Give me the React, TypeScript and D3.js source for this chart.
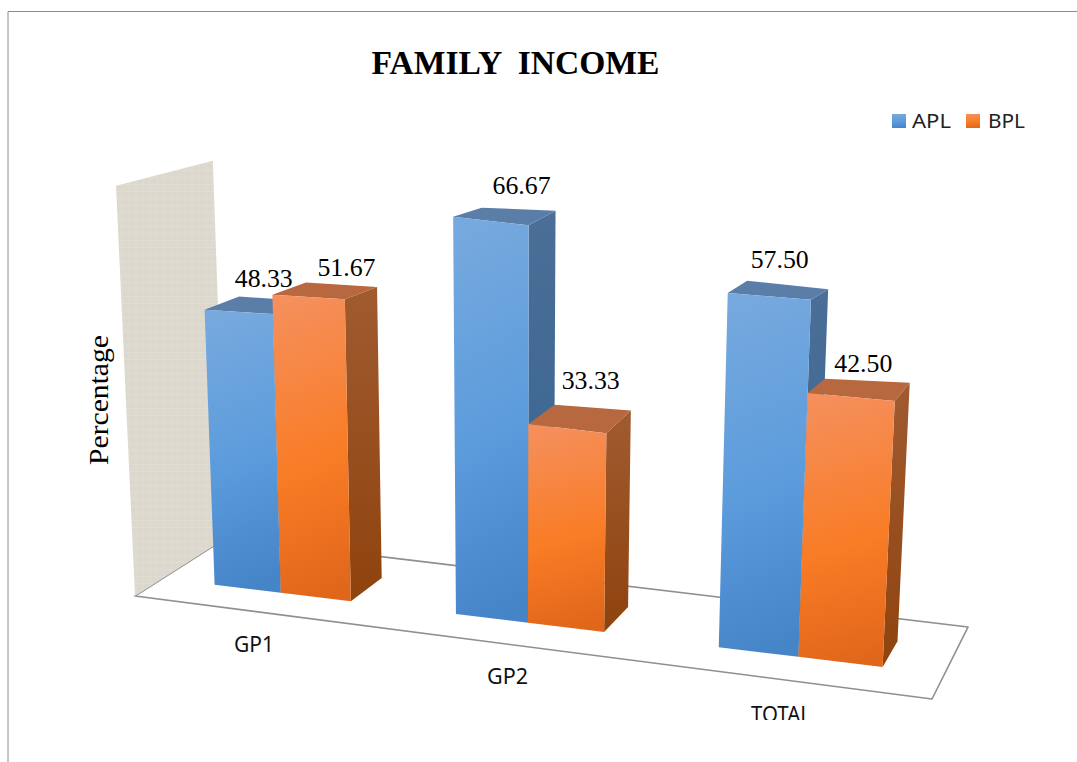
import React from "react";
import * as d3 from "d3";

const categories = ["GP1", "GP2", "TOTAL"];
const seriesNames = ["APL", "BPL"];
const apl = [48.33, 66.67, 57.5];
const bpl = [51.67, 33.33, 42.5];
const axisTop = 70.8;

// layout of the perspective floor
const W = 1077, H = 762;
const hom = { a: 555.8, b: 92.5, c: 135, d: -77.9, e: -10.7, f: 596, g: -0.2588, h: 0.068 };
const vanish = { x: 513, y: 8770 };
const pxPerUnit = d3.scaleLinear().domain([538, 578, 614, 632, 647, 667]).range([5.33, 5.63, 5.96, 5.96, 6.16, 6.26]);
const groupStart = d3.scaleLinear().domain([0, 1, 2]).range([0.086, 0.445, 0.768]);
const groupWidth = d3.scaleLinear().domain([0, 1, 2]).range([0.211, 0.189, 0.172]);
const frontDepth = d3.scaleLinear().domain([0, 1, 2]).range([0.347, 0.343, 0.322]);
const backDepth = d3.scaleLinear().domain([0, 1, 2]).range([0.786, 0.756, 0.69]);

type P = [number, number];
function floorPt(u: number, v: number): P {
  const w = hom.g * u + hom.h * v + 1;
  return [(hom.a * u + hom.b * v + hom.c) / w, (hom.d * u + hom.e * v + hom.f) / w];
}
function project(u: number, v: number, val: number): P {
  const [fx, fy] = floorPt(u, v);
  const py = val * pxPerUnit(fy);
  return [fx + ((fx - vanish.x) / (vanish.y - fy)) * py, fy - py];
}
const poly = (pts: P[]) => (d3.line()(pts) as string) + "Z";

const labelDx = [[-9, 5], [3, -2], [-8, -4]];
const labelDy = [[-12, -9], [-15, -19], [-17, -9]];
const catPos = [
  { x: 254, y: 652, w: 40 },
  { x: 507.5, y: 684, w: 41 },
  { x: 781, y: 722, w: 60 },
];
const floorCorners: P[] = [[0, 0], [1, 0], [1, 1], [-0.005, 1.22]];

const colors = [
  { id: "blue", front: ["#76a9de", "#5b9bdc", "#4484c7"], top: "#5a7ea8", side: ["#4b6f97", "#33628f"] },
  { id: "orange", front: ["#f58f5b", "#f97c26", "#e0661a"], top: "#b8683f", side: ["#a05b30", "#8f430e"] },
];

export default function App() {
  const bars = categories.flatMap((cat, i) => {
    const u0 = groupStart(i), w = groupWidth(i) / 2, vf = frontDepth(i), vb = backDepth(i);
    return [apl[i], bpl[i]].map((val, s) => {
      const ul = u0 + s * w, ur = ul + w;
      const flb = project(ul, vf, 0), frb = project(ur, vf, 0), brb = project(ur, vb, 0);
      const flt = project(ul, vf, val), frt = project(ur, vf, val);
      const blt = project(ul, vb, val), brt = project(ur, vb, val);
      const lx = (blt[0] + brt[0]) / 2 + labelDx[i][s];
      const ly = (blt[1] + brt[1]) / 2 + labelDy[i][s];
      return { key: cat + s, s, val, flb, frb, brb, flt, frt, blt, brt, lx, ly };
    });
  });

  const floor = floorCorners.map(([u, v]) => floorPt(u, v));
  const wall: P[] = [floorCorners[0], floorCorners[3]].map(([u, v]) => project(u, v, axisTop));
  const wallQuad: P[] = [floor[0], wall[0], wall[1], floor[3]];

  return (
    <svg width={W} height={H} style={{ position: "absolute", left: 0, top: 0, background: "#fff" }}>
      <defs>
        {colors.map((c) => (
          <React.Fragment key={c.id}>
            <linearGradient id={c.id + "F"} x1="0.45" y1="0" x2="0.55" y2="1">
              <stop offset="0" stopColor={c.front[0]} />
              <stop offset="0.55" stopColor={c.front[1]} />
              <stop offset="1" stopColor={c.front[2]} />
            </linearGradient>
            <linearGradient id={c.id + "S"} x1="0" y1="0" x2="0" y2="1">
              <stop offset="0" stopColor={c.side[0]} />
              <stop offset="1" stopColor={c.side[1]} />
            </linearGradient>
          </React.Fragment>
        ))}
        <pattern id="linen" width="7" height="7" patternUnits="userSpaceOnUse">
          <rect width="7" height="7" fill="#dcd8cd" />
          <path d="M0 2.5H7M3 0V7" stroke="#e0ddd3" strokeWidth="1" />
        </pattern>
        <clipPath id="cut">
          <rect x="0" y="0" width={W} height="720" />
        </clipPath>
      </defs>

      <path d={`M8 ${H}V11.5H${W}`} fill="none" stroke="#8c8c8c" strokeWidth="1" />

      <text x="515.5" y="74" textAnchor="middle" fontFamily="Liberation Serif" fontWeight="bold" fontSize="33.6" fill="#000" style={{ whiteSpace: "pre" }}>
        {"FAMILY  INCOME"}
      </text>

      {seriesNames.map((n, i) => (
        <g key={n}>
          <rect x={892 + i * 74} y="114" width="14" height="14" fill={`url(#${colors[i].id}F)`} />
          <text x={912 + i * 76} y="128" fontFamily="Noto Sans" fontSize="20" fill="#222" textLength={i ? 37 : 39} lengthAdjust="spacingAndGlyphs">
            {n}
          </text>
        </g>
      ))}

      <path d={poly(floor)} fill="#fff" stroke="#8f8f8f" strokeWidth="1.6" strokeLinejoin="round" />
      <path d={poly(wallQuad)} fill="url(#linen)" />

      <text transform="translate(108,465) rotate(-90)" fontFamily="Liberation Serif" fontSize="27" fill="#000" textLength="130" lengthAdjust="spacingAndGlyphs">
        Percentage
      </text>

      {bars.map((b) => {
        const c = colors[b.s];
        return (
          <g key={b.key}>
            <path d={poly([b.frb, b.brb, b.brt, b.frt])} fill={`url(#${c.id}S)`} />
            <path d={poly([b.flt, b.frt, b.brt, b.blt])} fill={c.top} />
            <path d={poly([b.flb, b.frb, b.frt, b.flt])} fill={`url(#${c.id}F)`} />
          </g>
        );
      })}

      {bars.map((b) => (
        <text key={b.key + "l"} x={b.lx} y={b.ly} textAnchor="middle" fontFamily="Liberation Serif" fontSize="25" fill="#000" textLength="58" lengthAdjust="spacingAndGlyphs">
          {b.val.toFixed(2)}
        </text>
      ))}

      <g clipPath="url(#cut)">
        {categories.map((cat, i) => (
          <text key={cat} x={catPos[i].x} y={catPos[i].y} textAnchor="middle" fontFamily="Noto Sans" fontSize="21" fill="#111" textLength={catPos[i].w} lengthAdjust="spacingAndGlyphs">
            {cat}
          </text>
        ))}
      </g>
    </svg>
  );
}
